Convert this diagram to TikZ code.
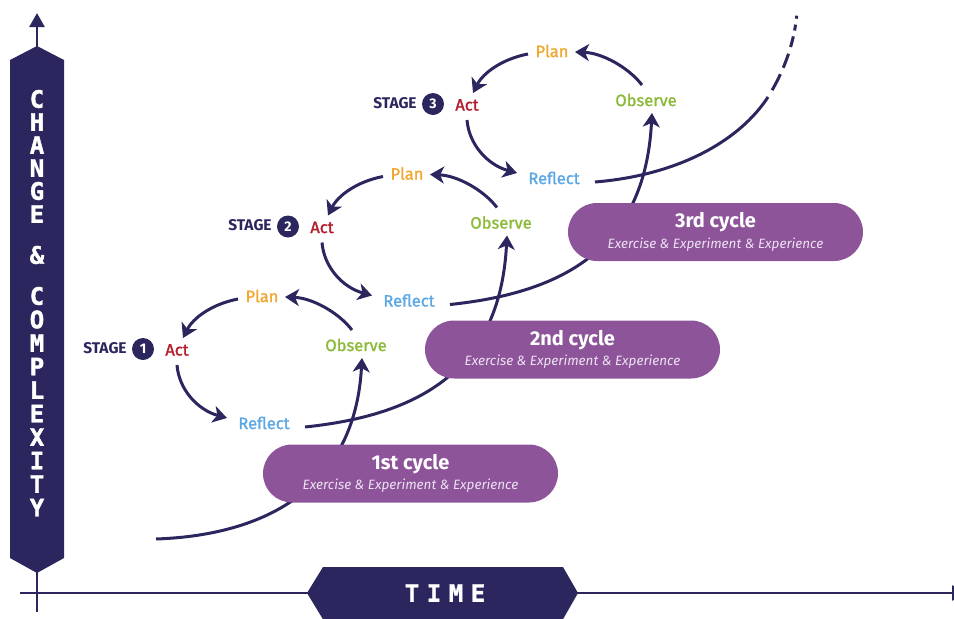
\documentclass[tikz,border=0pt]{standalone}
\usepackage{fontspec}
\setmainfont{Fira Sans}
\newfontfamily\monob[BoldFeatures={FakeBold=1.6}]{DejaVu Sans Mono}
\newfontfamily\labfont[FakeBold=1.4]{Fira Sans}
\usetikzlibrary{arrows.meta}
\definecolor{navy}{RGB}{43,38,94}
\definecolor{boxpurple}{RGB}{142,84,154}
\definecolor{actred}{RGB}{178,28,44}
\definecolor{planorange}{RGB}{240,168,48}
\definecolor{obsgreen}{RGB}{140,186,56}
\definecolor{refblue}{RGB}{92,168,228}
\definecolor{sublav}{RGB}{236,226,242}
\tikzset{
  flow/.style={navy, line width=3pt, -{Stealth[length=14pt,width=17pt,inset=4pt]}},
  plainflow/.style={navy, line width=3pt},
  lbl/.style={inner sep=0pt, font=\labfont\fontsize{16.5}{16.5}\selectfont},
  stagelbl/.style={inner sep=0pt, text=navy, font=\bfseries\fontsize{15.5}{15.5}\selectfont},
  numc/.style={circle, fill=navy, minimum size=22pt, inner sep=0pt, text=white, font=\bfseries\fontsize{14}{14}\selectfont},
  cyclebox/.style={fill=boxpurple, rounded corners=29pt, minimum width=295pt, minimum height=58pt, inner sep=0pt},
  cycletitle/.style={inner sep=0pt, text=white, font=\bfseries\fontsize{20}{20}\selectfont},
  cyclesub/.style={inner sep=0pt, text=sublav, font=\itshape\fontsize{13.5}{13.5}\selectfont},
  vlet/.style={inner sep=0pt, text=white, font=\monob\bfseries\fontsize{24}{24}\selectfont},
}
\begin{document}
\begin{tikzpicture}[x=1pt,y=-1pt]
\clip (0,0) rectangle (954,619);
% axes
\coordinate (ybot) at (37,612);
\coordinate (ytop) at (37,13);
\coordinate (xleft) at (20,593);
\coordinate (xright) at (966,593);
\draw[navy, line width=2.6pt, -{Triangle[length=14pt,width=15pt]}] (ybot) -- (ytop);
\draw[navy, line width=2.6pt, -{Triangle[length=14pt,width=15pt]}] (xleft) -- (xright);
% vertical banner
\fill[navy] (37,46) -- (64,60) -- (64,558) -- (37,573) -- (10,558) -- (10,60) -- cycle;
\foreach \ch/\yy [count=\n] in {C/99,H/122,A/145,N/168,G/191,E/214,\&/255,C/296,O/319.5,M/343,P/366.5,L/390,E/413.5,X/437,I/460.5,T/484,Y/507.5}
  \node[vlet] (v\n) at (37,\yy) {\ch};
% time banner
\fill[navy] (307,593) -- (323,567) -- (563,567) -- (578,593) -- (562,621) -- (324,621) -- cycle;
\foreach \ch/\xx [count=\n] in {T/412,I/434,M/456,E/478}
  \node[vlet] (t\n) at (\xx,593) {\ch};
% stages
\foreach \i in {1,2,3} {
  \pgfmathsetmacro\dx{145*(\i-1)}
  \pgfmathsetmacro\dy{-122.5*(\i-1)}
  \node[stagelbl] (stage\i) at ({105+\dx},{348+\dy}) {STAGE};
  \node[numc] (num\i) at ({143+\dx},{349+\dy}) {\i};
  \node[lbl, text=actred] (act\i) at ({177+\dx},{350+\dy}) {Act};
  \node[lbl, text=planorange] (plan\i) at ({262+\dx},{296+\dy}) {Plan};
  \node[lbl, text=obsgreen] (obs\i) at ({356+\dx},{345+\dy}) {Observe};
  \node[lbl, text=refblue] (ref\i) at ({264+\dx},{423+\dy}) {Reflect};
  \draw[flow] ([shift={(-24,3)}]plan\i.center) .. controls ({212+\dx},{304+\dy}) and ({193+\dx},{318+\dy}) .. ([shift={(6,-12)}]act\i.center);
  \draw[flow] ([shift={(0,15)}]act\i.center) .. controls ({179+\dx},{390+\dy}) and ({198+\dx},{410+\dy}) .. ([shift={(-37,-5)}]ref\i.center);
  \draw[flow] ([shift={(-4,-15)}]obs\i.center) .. controls ({338+\dx},{312+\dy}) and ({312+\dx},{298+\dy}) .. ([shift={(23,1)}]plan\i.center);
}
% long curves
\coordinate (c0s) at (156,539);
\draw[flow] (c0s) .. controls (270,535) and (355,485) .. ([shift={(6,13)}]obs1.center);
\foreach \i [evaluate=\i as \j using int(\i+1)] in {1,2} {
  \pgfmathsetmacro\dx{145*(\i-1)}
  \pgfmathsetmacro\dy{-122.5*(\i-1)}
  \draw[flow] ([shift={(41,4)}]ref\i.center) .. controls ({420+\dx},{415+\dy}) and ({500+\dx},{370+\dy}) .. ([shift={(6,13)}]obs\j.center);
}
\coordinate (dmid) at (768,97);
\coordinate (dend) at (797,12);
\draw[plainflow] ([shift={(41,4)}]ref3.center) .. controls (680,175) and (740,140) .. (dmid);
\draw[plainflow, dash pattern=on 0pt off 8pt on 18pt off 7pt on 15pt off 7pt on 11pt off 6pt on 6pt off 6pt on 3pt off 30pt] (dmid) .. controls (785,70) and (795,40) .. (dend);
% cycle boxes
\node[cyclebox] (box1) at (410.5,473.5) {};
\node[cycletitle] (bt1) at (410.5,464) {1st cycle};
\node[cyclesub] (bs1) at (410.5,486) {Exercise \& Experiment \& Experience};
\node[cyclebox] (box2) at (572.5,349.5) {};
\node[cycletitle] (bt2) at (572.5,340) {2nd cycle};
\node[cyclesub] (bs2) at (572.5,362) {Exercise \& Experiment \& Experience};
\node[cyclebox] (box3) at (715.5,232) {};
\node[cycletitle] (bt3) at (715.5,222.5) {3rd cycle};
\node[cyclesub] (bs3) at (715.5,244.5) {Exercise \& Experiment \& Experience};
\end{tikzpicture}
\end{document}
